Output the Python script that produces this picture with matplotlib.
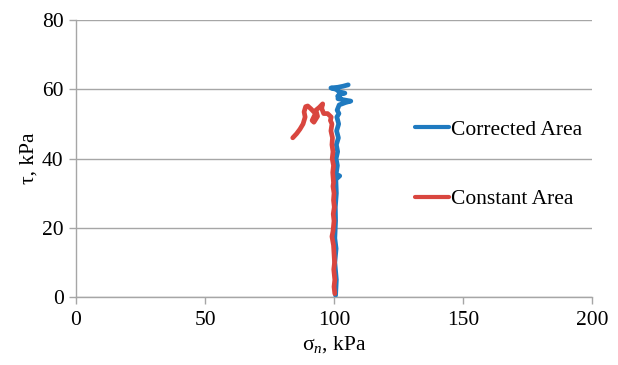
import matplotlib
matplotlib.use("Agg")
import matplotlib.pyplot as plt

# Data
corr_x = [100.6, 100.9, 100.3, 100.8, 100.3, 100.6, 100.5, 100.9, 100.7, 102.2, 100.8,
          101.3, 100.8, 101.4, 100.9, 101.7, 101.0, 101.8, 101.1, 101.9, 101.2, 102.0,
          104.5, 106.5, 103.5, 101.5, 102.3, 101.4, 102.0, 104.2, 102.0, 100.8, 98.8,
          101.5, 103.5, 105.5]
corr_y = [0.5, 5.0, 10.0, 14.0, 17.0, 22.0, 26.0, 30.0, 34.0, 35.0, 35.5,
          38.0, 40.0, 42.0, 44.0, 46.0, 48.0, 50.0, 52.0, 53.0, 54.0, 55.5,
          56.2, 56.6, 57.0, 57.3, 57.6, 58.0, 58.5, 58.9, 59.3, 60.0, 60.4,
          60.6, 60.9, 61.3]

const_x = [100.3, 100.0, 100.3, 99.9, 100.2, 99.8, 99.2, 99.6, 100.0, 99.7, 100.1,
           99.8, 100.0, 99.6, 99.8, 99.5, 99.8, 99.3, 99.6, 99.2, 99.4, 98.8, 99.2,
           98.6, 98.9, 97.5, 96.0, 95.2, 95.6, 94.3, 93.0, 93.6, 92.2, 91.5, 92.8,
           91.0, 89.8, 89.0, 88.4, 88.8, 88.0, 86.8, 85.5, 84.0]
const_y = [1.0, 3.0, 5.0, 8.0, 10.0, 15.0, 17.5, 19.0, 22.0, 24.0, 26.0,
           28.0, 30.0, 32.0, 33.0, 36.0, 38.0, 40.0, 42.0, 44.0, 46.0, 48.0, 50.0,
           51.0, 52.0, 53.0, 53.0, 54.5, 55.8, 54.8, 54.0, 52.2, 50.5, 51.0, 53.0,
           54.4, 55.2, 55.0, 53.5, 52.0, 50.0, 48.5, 47.2, 46.0]

x_ticks = [0, 50, 100, 150, 200]
y_ticks = [0, 20, 40, 60, 80]

plt.rcParams['font.family'] = ['Liberation Serif', 'DejaVu Serif']
plt.rcParams['mathtext.fontset'] = 'custom'
plt.rcParams['mathtext.rm'] = 'Liberation Serif'
plt.rcParams['mathtext.it'] = 'Liberation Serif:italic'

fs = 15.5
fig = plt.figure(figsize=(6.18, 3.65), dpi=100)
ax = fig.add_axes([0.123, 0.186, 0.835, 0.759])

grey = '#a6a6a6'
ax.set_xlim(0, 200)
ax.set_ylim(0, 80)
ax.set_xticks(x_ticks)
ax.set_yticks(y_ticks)
ax.yaxis.grid(True, color=grey, linewidth=1.0)
ax.set_axisbelow(True)
for s in ['top', 'right']:
    ax.spines[s].set_visible(False)
for s in ['left', 'bottom']:
    ax.spines[s].set_color(grey)
    ax.spines[s].set_linewidth(1.0)
ax.tick_params(axis='both', colors=grey, labelcolor='#000000', labelsize=fs,
               length=5, width=1.0, direction='out')
ax.tick_params(axis='x', pad=5)
ax.tick_params(axis='y', pad=4)

ax.plot(corr_x, corr_y, color='#1f7ac0', linewidth=3.4, solid_joinstyle='round',
        solid_capstyle='round', label='Corrected Area')
ax.plot(const_x, const_y, color='#d9463f', linewidth=3.4, solid_joinstyle='round',
        solid_capstyle='round', label='Constant Area')

ax.set_xlabel(r'σ$_{n}$, kPa', fontsize=fs, labelpad=3)
ax.set_ylabel('τ, kPa', fontsize=fs, labelpad=2)

leg = ax.legend(loc='upper left', bbox_to_anchor=(0.641, 0.671), frameon=False,
                fontsize=fs, handlelength=1.55, handletextpad=0.1,
                labelspacing=2.28, borderaxespad=0)
for h in leg.get_lines():
    h.set_linewidth(3.0)

fig.savefig('out.png', dpi=100)
